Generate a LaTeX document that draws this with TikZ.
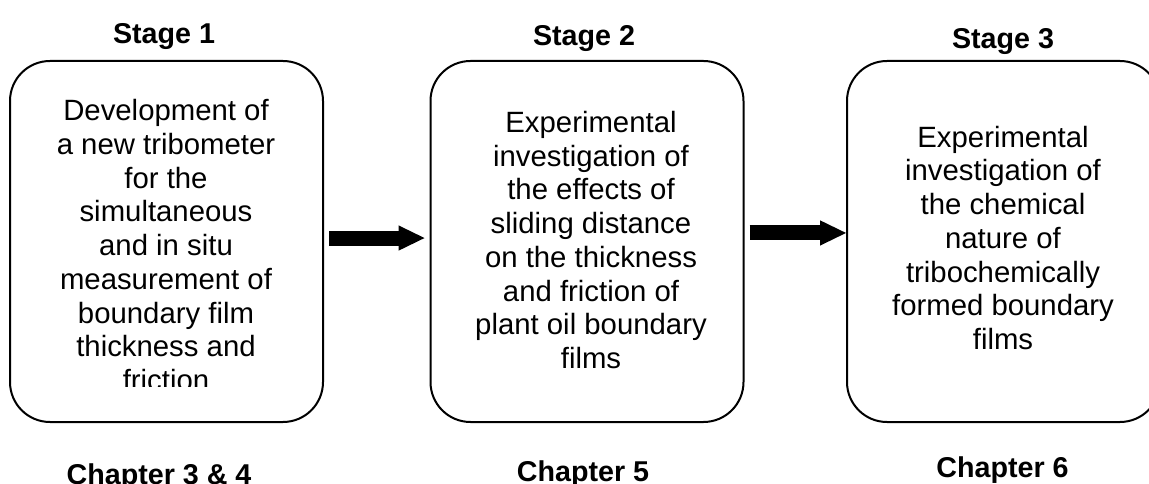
\documentclass[tikz,border=0pt]{standalone}
\usepackage{fontspec}
\setmainfont{Liberation Sans}
\usetikzlibrary{arrows.meta}
\tikzset{
	stagebox/.style={draw, line width=1.5pt, rounded corners=30pt, minimum width=234.75pt, minimum height=270.75pt, inner sep=0pt},
	boxtext/.style={align=center, inner sep=0pt, anchor=base, font=\fontsize{22}{25.3}\selectfont},
	headtext/.style={inner sep=0pt, anchor=base, font=\fontsize{21.5}{25}\selectfont\bfseries},
	bigarrow/.style={line width=11.25pt, -{Triangle[length=19.5pt, width=19pt, line width=0pt]}}
}

\begin{document}
\begin{tikzpicture}[x=0.75pt, y=-0.75pt]
			%%%%% START %%%%%
			\useasboundingbox (0, 0) rectangle (1149, 484);
			
			\node[headtext] (stageA) at (164, 43.5) {Stage 1};
			\node[headtext] (stageB) at (584, 45.5) {Stage 2};
			\node[headtext] (stageC) at (1003, 48.5) {Stage 3};
			
			\node[stagebox] (b1) at (166.5, 241.5) {};
			\node[stagebox] (b2) at (587, 241.5) {};
			\node[stagebox] (b3) at (1003.5, 241.5) {};
			
			% base = last line of each text
			\begin{scope}
				\clip (0, 0) rectangle (1149, 387);
				\node[boxtext] (t1) at (166, 390.6) {Development of\\a new tribometer\\for the\\simultaneous\\and in situ\\measurement of\\boundary film\\thickness and\\friction};
			\end{scope}
			\node[boxtext] (t2) at (591, 368.5) {Experimental\\investigation of\\the effects of\\sliding distance\\on the thickness\\and friction of\\plant oil boundary\\films};
			\node[boxtext] (t3) at (1003, 349.5) {Experimental\\investigation of\\the chemical\\nature of\\tribochemically\\formed boundary\\films};
			
			\draw[bigarrow] ([xshift=3.75pt, yshift=2.6pt]b1.east) -- ([xshift=-3.75pt, yshift=2.6pt]b2.west);
			\draw[bigarrow] ([xshift=3.75pt, yshift=6.4pt]b2.east) -- ([yshift=6.4pt]b3.west);
			
			\node[headtext] (chapA) at (159, 484.5) {Chapter 3 \& 4};
			\node[headtext] (chapB) at (583, 481) {Chapter 5};
			\node[headtext] (chapC) at (1002.5, 477.5) {Chapter 6};
			
			%%%%% END %%%%%
\end{tikzpicture}
\end{document}
